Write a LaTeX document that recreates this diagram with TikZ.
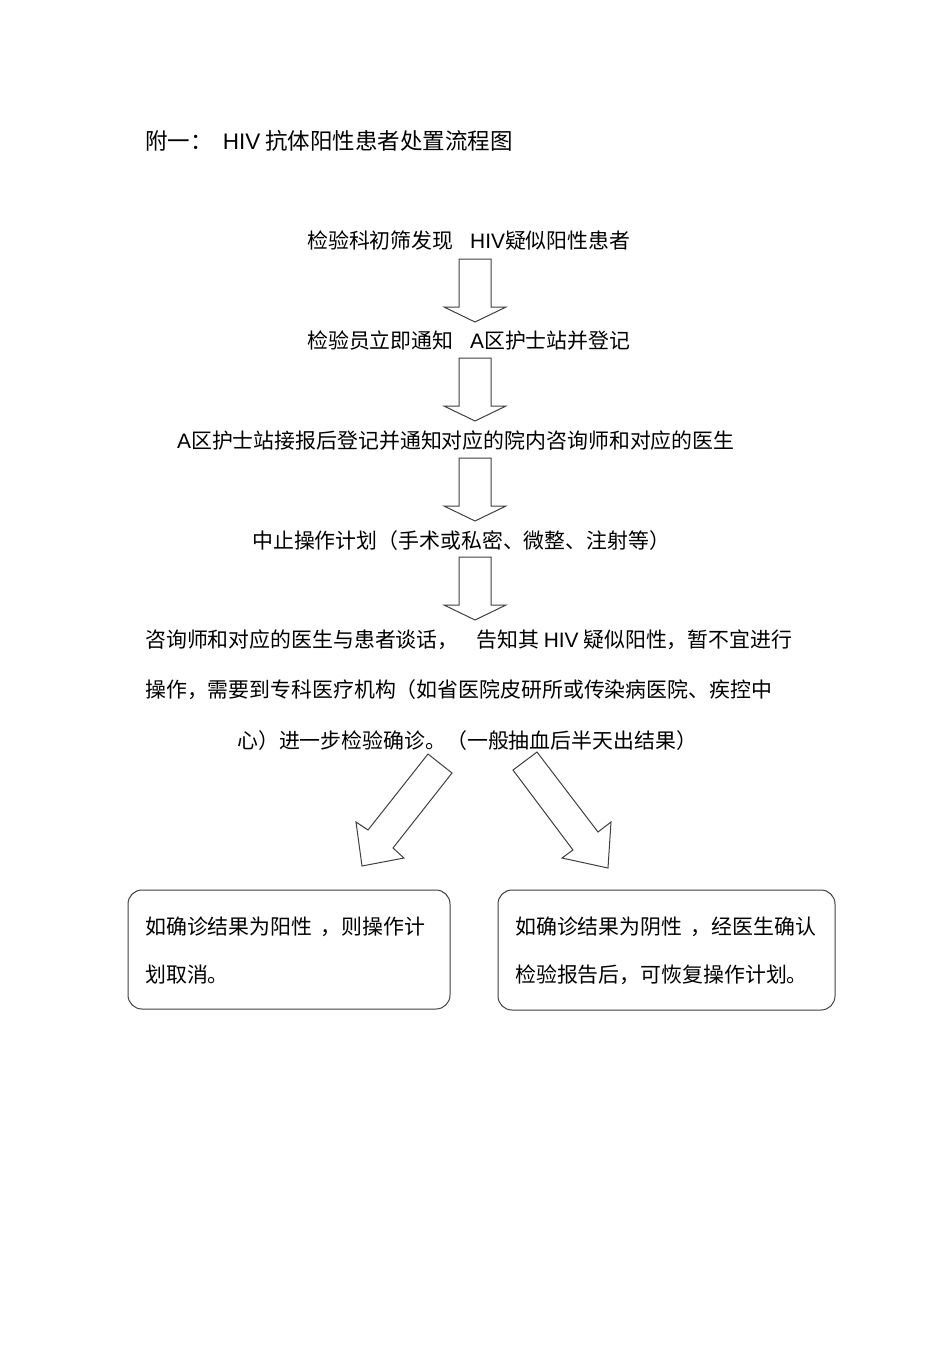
\documentclass[tikz,border=0pt]{standalone}
\usepackage{fontspec}
\setmainfont{Noto Sans CJK SC}
\newfontfamily\lat{Liberation Sans}
\begin{document}
\begin{tikzpicture}[x=1pt,y=-1pt,
  txt/.style={anchor=west,inner sep=0pt,font=\fontsize{20.9}{24}\selectfont},
  barrow/.style={draw=black!75,line width=1pt,fill=white,line join=miter},
  resbox/.style={draw=black!75,line width=1pt,rounded corners=14pt}]
\useasboundingbox[fill=white] (0,0) rectangle (950,1345);
% title
\node[txt,font=\fontsize{22.5}{26}\selectfont] (title) at (145,141) {附一：\hspace{0.45em}{\lat HIV} 抗体阳性患者处置流程图};
% steps
\node[txt] (s1) at (307,241) {检验科初筛发现\hspace{0.8em}{\lat HIV}疑似阳性患者};
\node[txt] (s2) at (307,341) {检验员立即通知\hspace{0.8em}{\lat A}区护士站并登记};
\node[txt] (s3) at (177,441) {{\lat A}区护士站接报后登记并通知对应的院内咨询师和对应的医生};
\node[txt] (s4) at (252,541) {中止操作计划（手术或私密、微整、注射等）};
\node[txt] (s5a) at (145,640) {咨询师和对应的医生与患者谈话，\hspace{0.85em}告知其 {\lat HIV} 疑似阳性，暂不宜进行};
\node[txt] (s5b) at (145,690) {操作，需要到专科医疗机构（如省医院皮研所或传染病医院、疾控中};
\node[txt] (s5c) at (237,741) {心）进一步检验确诊。（一般抽血后半天出结果）};
% down block arrows
\foreach \y in {259,358,458,557}{
  \draw[barrow] (459,\y) -- (491,\y) -- (491,\y+48) -- (506,\y+48) -- (475,\y+63)
    -- (444,\y+48) -- (459,\y+48) -- cycle;
}
% diagonal block arrows
\draw[barrow] (428,754) -- (452,773) -- (393,848) -- (404,858) -- (362,866) -- (356,822) -- (368,830) -- cycle;
\draw[barrow] (513,770) -- (537,752) -- (598,832) -- (611,822) -- (608,868) -- (562,858) -- (573,850) -- cycle;
% result boxes
\draw[resbox] (128,890) rectangle (450,1009);
\node[txt] (r1a) at (145,927) {如确诊结果为阳性\hspace{0.4em}，则操作计};
\node[txt] (r1b) at (145,975) {划取消。};
\draw[resbox] (498,890) rectangle (835,1010);
\node[txt] (r2a) at (515,927) {如确诊结果为阴性\hspace{0.4em}，经医生确认};
\node[txt] (r2b) at (515,975) {检验报告后，可恢复操作计划。};
\end{tikzpicture}
\end{document}
